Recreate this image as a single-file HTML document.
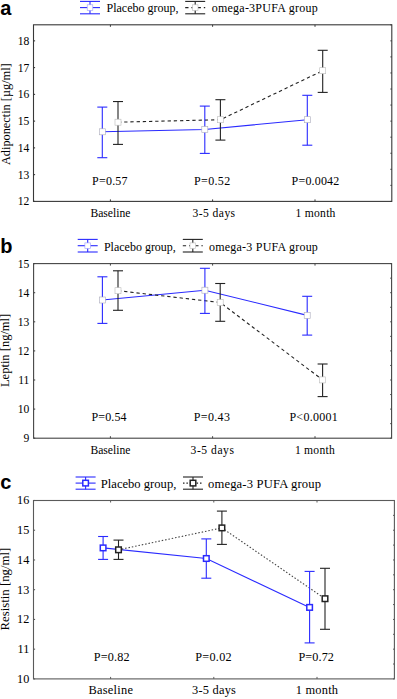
<!DOCTYPE html>
<html><head><meta charset="utf-8"><style>
html,body{margin:0;padding:0;background:#fff;}
body{width:397px;height:699px;overflow:hidden;}
svg{display:block;}
text{font-family:"Liberation Serif", serif;fill:#000;}
</style></head><body>
<svg width="397" height="699" viewBox="0 0 397 699">
<g class="pa">
<rect x="33.5" y="24.8" width="358.3" height="176.6" fill="none" stroke="#383838" stroke-width="1.1"/>
<line x1="33.5" y1="201.4" x2="35.1" y2="201.4" stroke="#383838" stroke-width="1.1"/>
<text x="29.3" y="205.3" text-anchor="end" font-size="11.6">12</text>
<line x1="33.5" y1="174.64" x2="35.1" y2="174.64" stroke="#383838" stroke-width="1.1"/>
<text x="29.3" y="178.54" text-anchor="end" font-size="11.6">13</text>
<line x1="33.5" y1="147.88" x2="35.1" y2="147.88" stroke="#383838" stroke-width="1.1"/>
<text x="29.3" y="151.78" text-anchor="end" font-size="11.6">14</text>
<line x1="33.5" y1="121.13" x2="35.1" y2="121.13" stroke="#383838" stroke-width="1.1"/>
<text x="29.3" y="125.03" text-anchor="end" font-size="11.6">15</text>
<line x1="33.5" y1="94.37" x2="35.1" y2="94.37" stroke="#383838" stroke-width="1.1"/>
<text x="29.3" y="98.27" text-anchor="end" font-size="11.6">16</text>
<line x1="33.5" y1="67.61" x2="35.1" y2="67.61" stroke="#383838" stroke-width="1.1"/>
<text x="29.3" y="71.51" text-anchor="end" font-size="11.6">17</text>
<line x1="33.5" y1="40.85" x2="35.1" y2="40.85" stroke="#383838" stroke-width="1.1"/>
<text x="29.3" y="44.75" text-anchor="end" font-size="11.6">18</text>
<line x1="390.4" y1="201.4" x2="391.8" y2="201.4" stroke="#383838" stroke-width="1"/>
<line x1="390.4" y1="185.35" x2="391.8" y2="185.35" stroke="#383838" stroke-width="1"/>
<line x1="390.4" y1="169.29" x2="391.8" y2="169.29" stroke="#383838" stroke-width="1"/>
<line x1="390.4" y1="153.24" x2="391.8" y2="153.24" stroke="#383838" stroke-width="1"/>
<line x1="390.4" y1="137.18" x2="391.8" y2="137.18" stroke="#383838" stroke-width="1"/>
<line x1="390.4" y1="121.13" x2="391.8" y2="121.13" stroke="#383838" stroke-width="1"/>
<line x1="390.4" y1="105.07" x2="391.8" y2="105.07" stroke="#383838" stroke-width="1"/>
<line x1="390.4" y1="89.02" x2="391.8" y2="89.02" stroke="#383838" stroke-width="1"/>
<line x1="390.4" y1="72.96" x2="391.8" y2="72.96" stroke="#383838" stroke-width="1"/>
<line x1="390.4" y1="56.91" x2="391.8" y2="56.91" stroke="#383838" stroke-width="1"/>
<line x1="390.4" y1="40.85" x2="391.8" y2="40.85" stroke="#383838" stroke-width="1"/>
<line x1="390.4" y1="24.8" x2="391.8" y2="24.8" stroke="#383838" stroke-width="1"/>
<line x1="110.4" y1="24.8" x2="110.4" y2="26.8" stroke="#383838" stroke-width="1"/>
<line x1="110.4" y1="199.4" x2="110.4" y2="201.4" stroke="#383838" stroke-width="1"/>
<line x1="212.6" y1="24.8" x2="212.6" y2="26.8" stroke="#383838" stroke-width="1"/>
<line x1="212.6" y1="199.4" x2="212.6" y2="201.4" stroke="#383838" stroke-width="1"/>
<line x1="315" y1="24.8" x2="315" y2="26.8" stroke="#383838" stroke-width="1"/>
<line x1="315" y1="199.4" x2="315" y2="201.4" stroke="#383838" stroke-width="1"/>
<text x="110.4" y="216.6" text-anchor="middle" font-size="11.6" textLength="40" lengthAdjust="spacing">Baseline</text>
<text x="109.8" y="185.3" text-anchor="middle" font-size="12" textLength="35.6" lengthAdjust="spacing">P=0.57</text>
<text x="213.85" y="216.6" text-anchor="middle" font-size="11.6" textLength="42.5" lengthAdjust="spacing">3-5 days</text>
<text x="212.1" y="185.3" text-anchor="middle" font-size="12" textLength="36.2" lengthAdjust="spacing">P=0.52</text>
<text x="315.5" y="216.6" text-anchor="middle" font-size="11.6" textLength="39.8" lengthAdjust="spacing">1 month</text>
<text x="315.45" y="185.3" text-anchor="middle" font-size="12" textLength="47.7" lengthAdjust="spacing">P=0.0042</text>
<text transform="translate(9.8,114.2) rotate(-90)" text-anchor="middle" font-size="12.3">Adiponectin [µg/ml]</text>
<text x="0.3" y="14.6" style="font-family:&quot;Liberation Sans&quot;,sans-serif;font-weight:bold;font-size:20px;fill:#000">a</text>
<polyline points="102.3,131.8 204.8,129.5 307.3,119.7" fill="none" stroke="#2a2aff" stroke-width="1.1"/>
<polyline points="118,122.2 220.4,119.7 322.7,70.7" fill="none" stroke="#222" stroke-width="1.1" stroke-dasharray="3.3,2.9"/>
<line x1="102.3" y1="107.1" x2="102.3" y2="157.7" stroke="#2a2aff" stroke-width="1.1"/>
<line x1="97.3" y1="107.1" x2="107.3" y2="107.1" stroke="#2a2aff" stroke-width="1.1"/>
<line x1="97.3" y1="157.7" x2="107.3" y2="157.7" stroke="#2a2aff" stroke-width="1.1"/>
<rect x="99.3" y="128.8" width="6" height="6" fill="#fff" stroke="#aab" stroke-width="0.6"/>
<line x1="204.8" y1="106.1" x2="204.8" y2="153.4" stroke="#2a2aff" stroke-width="1.1"/>
<line x1="199.8" y1="106.1" x2="209.8" y2="106.1" stroke="#2a2aff" stroke-width="1.1"/>
<line x1="199.8" y1="153.4" x2="209.8" y2="153.4" stroke="#2a2aff" stroke-width="1.1"/>
<rect x="201.8" y="126.5" width="6" height="6" fill="#fff" stroke="#aab" stroke-width="0.6"/>
<line x1="307.3" y1="95.3" x2="307.3" y2="145.2" stroke="#2a2aff" stroke-width="1.1"/>
<line x1="302.3" y1="95.3" x2="312.3" y2="95.3" stroke="#2a2aff" stroke-width="1.1"/>
<line x1="302.3" y1="145.2" x2="312.3" y2="145.2" stroke="#2a2aff" stroke-width="1.1"/>
<rect x="304.3" y="116.7" width="6" height="6" fill="#fff" stroke="#aab" stroke-width="0.6"/>
<line x1="118" y1="101.55" x2="118" y2="144.4" stroke="#222" stroke-width="1.1"/>
<line x1="113" y1="101.55" x2="123" y2="101.55" stroke="#222" stroke-width="1.1"/>
<line x1="113" y1="144.4" x2="123" y2="144.4" stroke="#222" stroke-width="1.1"/>
<rect x="115" y="119.2" width="6" height="6" fill="#fff" stroke="#bbb" stroke-width="0.6"/>
<line x1="220.4" y1="99.7" x2="220.4" y2="140.1" stroke="#222" stroke-width="1.1"/>
<line x1="215.4" y1="99.7" x2="225.4" y2="99.7" stroke="#222" stroke-width="1.1"/>
<line x1="215.4" y1="140.1" x2="225.4" y2="140.1" stroke="#222" stroke-width="1.1"/>
<rect x="217.4" y="116.7" width="6" height="6" fill="#fff" stroke="#bbb" stroke-width="0.6"/>
<line x1="322.7" y1="50.3" x2="322.7" y2="92.4" stroke="#222" stroke-width="1.1"/>
<line x1="317.7" y1="50.3" x2="327.7" y2="50.3" stroke="#222" stroke-width="1.1"/>
<line x1="317.7" y1="92.4" x2="327.7" y2="92.4" stroke="#222" stroke-width="1.1"/>
<rect x="319.7" y="67.7" width="6" height="6" fill="#fff" stroke="#bbb" stroke-width="0.6"/>
<line x1="80" y1="1.4" x2="100" y2="1.4" stroke="#2a2aff" stroke-width="1.1"/>
<line x1="80" y1="13.8" x2="100" y2="13.8" stroke="#2a2aff" stroke-width="1.1"/>
<line x1="90" y1="1.4" x2="90" y2="13.8" stroke="#2a2aff" stroke-width="1.1"/>
<line x1="80" y1="7.6" x2="100" y2="7.6" stroke="#2a2aff" stroke-width="1.1"/>
<rect x="87.2" y="4.8" width="5.6" height="5.6" fill="#fff" stroke="#99f" stroke-width="0.6"/>
<line x1="185.2" y1="1.4" x2="205.2" y2="1.4" stroke="#222" stroke-width="1.1"/>
<line x1="185.2" y1="13.8" x2="205.2" y2="13.8" stroke="#222" stroke-width="1.1"/>
<line x1="195.2" y1="1.4" x2="195.2" y2="13.8" stroke="#222" stroke-width="1.1"/>
<line x1="185.2" y1="7.6" x2="205.2" y2="7.6" stroke="#222" stroke-width="1.1" stroke-dasharray="3.3,2.9"/>
<rect x="192.4" y="4.8" width="5.6" height="5.6" fill="#fff" stroke="#bbb" stroke-width="0.6"/>
<text x="106.5" y="11.6" font-size="12">Placebo group,</text>
<text x="211.65" y="11.6" font-size="12" letter-spacing="0.25">omega-3PUFA group</text>
</g>
<g class="pb">
<rect x="33.6" y="263.6" width="358" height="174.6" fill="none" stroke="#444" stroke-width="1.1"/>
<line x1="33.6" y1="438.2" x2="35.2" y2="438.2" stroke="#444" stroke-width="1.1"/>
<text x="29.4" y="442.1" text-anchor="end" font-size="11.6">9</text>
<line x1="33.6" y1="409.1" x2="35.2" y2="409.1" stroke="#444" stroke-width="1.1"/>
<text x="29.4" y="413" text-anchor="end" font-size="11.6">10</text>
<line x1="33.6" y1="380" x2="35.2" y2="380" stroke="#444" stroke-width="1.1"/>
<text x="29.4" y="383.9" text-anchor="end" font-size="11.6">11</text>
<line x1="33.6" y1="350.9" x2="35.2" y2="350.9" stroke="#444" stroke-width="1.1"/>
<text x="29.4" y="354.8" text-anchor="end" font-size="11.6">12</text>
<line x1="33.6" y1="321.8" x2="35.2" y2="321.8" stroke="#444" stroke-width="1.1"/>
<text x="29.4" y="325.7" text-anchor="end" font-size="11.6">13</text>
<line x1="33.6" y1="292.7" x2="35.2" y2="292.7" stroke="#444" stroke-width="1.1"/>
<text x="29.4" y="296.6" text-anchor="end" font-size="11.6">14</text>
<line x1="33.6" y1="263.6" x2="35.2" y2="263.6" stroke="#444" stroke-width="1.1"/>
<text x="29.4" y="267.5" text-anchor="end" font-size="11.6">15</text>
<line x1="390.2" y1="438.2" x2="391.6" y2="438.2" stroke="#444" stroke-width="1"/>
<line x1="390.2" y1="423.65" x2="391.6" y2="423.65" stroke="#444" stroke-width="1"/>
<line x1="390.2" y1="409.1" x2="391.6" y2="409.1" stroke="#444" stroke-width="1"/>
<line x1="390.2" y1="394.55" x2="391.6" y2="394.55" stroke="#444" stroke-width="1"/>
<line x1="390.2" y1="380" x2="391.6" y2="380" stroke="#444" stroke-width="1"/>
<line x1="390.2" y1="365.45" x2="391.6" y2="365.45" stroke="#444" stroke-width="1"/>
<line x1="390.2" y1="350.9" x2="391.6" y2="350.9" stroke="#444" stroke-width="1"/>
<line x1="390.2" y1="336.35" x2="391.6" y2="336.35" stroke="#444" stroke-width="1"/>
<line x1="390.2" y1="321.8" x2="391.6" y2="321.8" stroke="#444" stroke-width="1"/>
<line x1="390.2" y1="307.25" x2="391.6" y2="307.25" stroke="#444" stroke-width="1"/>
<line x1="390.2" y1="292.7" x2="391.6" y2="292.7" stroke="#444" stroke-width="1"/>
<line x1="390.2" y1="278.15" x2="391.6" y2="278.15" stroke="#444" stroke-width="1"/>
<line x1="390.2" y1="263.6" x2="391.6" y2="263.6" stroke="#444" stroke-width="1"/>
<line x1="110.4" y1="263.6" x2="110.4" y2="265.6" stroke="#444" stroke-width="1"/>
<line x1="110.4" y1="436.2" x2="110.4" y2="438.2" stroke="#444" stroke-width="1"/>
<line x1="212.6" y1="263.6" x2="212.6" y2="265.6" stroke="#444" stroke-width="1"/>
<line x1="212.6" y1="436.2" x2="212.6" y2="438.2" stroke="#444" stroke-width="1"/>
<line x1="315" y1="263.6" x2="315" y2="265.6" stroke="#444" stroke-width="1"/>
<line x1="315" y1="436.2" x2="315" y2="438.2" stroke="#444" stroke-width="1"/>
<text x="110.4" y="453.5" text-anchor="middle" font-size="11.6" textLength="40" lengthAdjust="spacing">Baseline</text>
<text x="109" y="421.4" text-anchor="middle" font-size="12" textLength="35.2" lengthAdjust="spacing">P=0.54</text>
<text x="212.25" y="453.5" text-anchor="middle" font-size="11.6" textLength="43.3" lengthAdjust="spacing">3-5 days</text>
<text x="211.85" y="421.4" text-anchor="middle" font-size="12" textLength="36.1" lengthAdjust="spacing">P=0.43</text>
<text x="314.8" y="453.5" text-anchor="middle" font-size="11.6" textLength="39.8" lengthAdjust="spacing">1 month</text>
<text x="313.55" y="421.4" text-anchor="middle" font-size="12" textLength="48.3" lengthAdjust="spacing">P&lt;0.0001</text>
<text transform="translate(9.3,350.4) rotate(-90)" text-anchor="middle" font-size="12.5">Leptin [ng/ml]</text>
<text x="0.3" y="252.8" style="font-family:&quot;Liberation Sans&quot;,sans-serif;font-weight:bold;font-size:20px;fill:#000">b</text>
<polyline points="102.4,300 204.9,290.2 307.2,315.4" fill="none" stroke="#2a2aff" stroke-width="1.1"/>
<polyline points="118,290.7 220.2,302.5 322.6,379.9" fill="none" stroke="#222" stroke-width="1.1" stroke-dasharray="3.3,2.9"/>
<line x1="102.4" y1="276.8" x2="102.4" y2="323.4" stroke="#2a2aff" stroke-width="1.1"/>
<line x1="97.4" y1="276.8" x2="107.4" y2="276.8" stroke="#2a2aff" stroke-width="1.1"/>
<line x1="97.4" y1="323.4" x2="107.4" y2="323.4" stroke="#2a2aff" stroke-width="1.1"/>
<rect x="99.4" y="297" width="6" height="6" fill="#fff" stroke="#aab" stroke-width="0.6"/>
<line x1="204.9" y1="268.3" x2="204.9" y2="313.4" stroke="#2a2aff" stroke-width="1.1"/>
<line x1="199.9" y1="268.3" x2="209.9" y2="268.3" stroke="#2a2aff" stroke-width="1.1"/>
<line x1="199.9" y1="313.4" x2="209.9" y2="313.4" stroke="#2a2aff" stroke-width="1.1"/>
<rect x="201.9" y="287.2" width="6" height="6" fill="#fff" stroke="#aab" stroke-width="0.6"/>
<line x1="307.2" y1="296.3" x2="307.2" y2="335.1" stroke="#2a2aff" stroke-width="1.1"/>
<line x1="302.2" y1="296.3" x2="312.2" y2="296.3" stroke="#2a2aff" stroke-width="1.1"/>
<line x1="302.2" y1="335.1" x2="312.2" y2="335.1" stroke="#2a2aff" stroke-width="1.1"/>
<rect x="304.2" y="312.4" width="6" height="6" fill="#fff" stroke="#aab" stroke-width="0.6"/>
<line x1="118" y1="270.8" x2="118" y2="310.3" stroke="#222" stroke-width="1.1"/>
<line x1="113" y1="270.8" x2="123" y2="270.8" stroke="#222" stroke-width="1.1"/>
<line x1="113" y1="310.3" x2="123" y2="310.3" stroke="#222" stroke-width="1.1"/>
<rect x="115" y="287.7" width="6" height="6" fill="#fff" stroke="#bbb" stroke-width="0.6"/>
<line x1="220.2" y1="283.5" x2="220.2" y2="321.3" stroke="#222" stroke-width="1.1"/>
<line x1="215.2" y1="283.5" x2="225.2" y2="283.5" stroke="#222" stroke-width="1.1"/>
<line x1="215.2" y1="321.3" x2="225.2" y2="321.3" stroke="#222" stroke-width="1.1"/>
<rect x="217.2" y="299.5" width="6" height="6" fill="#fff" stroke="#bbb" stroke-width="0.6"/>
<line x1="322.6" y1="364" x2="322.6" y2="396.6" stroke="#222" stroke-width="1.1"/>
<line x1="317.6" y1="364" x2="327.6" y2="364" stroke="#222" stroke-width="1.1"/>
<line x1="317.6" y1="396.6" x2="327.6" y2="396.6" stroke="#222" stroke-width="1.1"/>
<rect x="319.6" y="376.9" width="6" height="6" fill="#fff" stroke="#bbb" stroke-width="0.6"/>
<line x1="77.7" y1="239.4" x2="97.7" y2="239.4" stroke="#2a2aff" stroke-width="1.1"/>
<line x1="77.7" y1="252" x2="97.7" y2="252" stroke="#2a2aff" stroke-width="1.1"/>
<line x1="87.7" y1="239.4" x2="87.7" y2="252" stroke="#2a2aff" stroke-width="1.1"/>
<line x1="77.7" y1="245.7" x2="97.7" y2="245.7" stroke="#2a2aff" stroke-width="1.1"/>
<rect x="84.9" y="242.9" width="5.6" height="5.6" fill="#fff" stroke="#99f" stroke-width="0.6"/>
<line x1="182.8" y1="239.4" x2="202.8" y2="239.4" stroke="#222" stroke-width="1.1"/>
<line x1="182.8" y1="252" x2="202.8" y2="252" stroke="#222" stroke-width="1.1"/>
<line x1="192.8" y1="239.4" x2="192.8" y2="252" stroke="#222" stroke-width="1.1"/>
<line x1="182.8" y1="245.7" x2="202.8" y2="245.7" stroke="#222" stroke-width="1.1" stroke-dasharray="3.3,2.9"/>
<rect x="190" y="242.9" width="5.6" height="5.6" fill="#fff" stroke="#bbb" stroke-width="0.6"/>
<text x="103.9" y="251.1" font-size="12">Placebo group,</text>
<text x="209" y="251.1" font-size="12" letter-spacing="0.22">omega-3 PUFA group</text>
</g>
<g class="pc">
<rect x="33.5" y="500.5" width="360.9" height="178.4" fill="none" stroke="#5a5a5a" stroke-width="1.1"/>
<line x1="33.5" y1="678.9" x2="35.1" y2="678.9" stroke="#5a5a5a" stroke-width="1.1"/>
<text x="29.3" y="682.8" text-anchor="end" font-size="12.2">10</text>
<line x1="33.5" y1="649.17" x2="35.1" y2="649.17" stroke="#5a5a5a" stroke-width="1.1"/>
<text x="29.3" y="653.07" text-anchor="end" font-size="12.2">11</text>
<line x1="33.5" y1="619.43" x2="35.1" y2="619.43" stroke="#5a5a5a" stroke-width="1.1"/>
<text x="29.3" y="623.33" text-anchor="end" font-size="12.2">12</text>
<line x1="33.5" y1="589.7" x2="35.1" y2="589.7" stroke="#5a5a5a" stroke-width="1.1"/>
<text x="29.3" y="593.6" text-anchor="end" font-size="12.2">13</text>
<line x1="33.5" y1="559.97" x2="35.1" y2="559.97" stroke="#5a5a5a" stroke-width="1.1"/>
<text x="29.3" y="563.87" text-anchor="end" font-size="12.2">14</text>
<line x1="33.5" y1="530.23" x2="35.1" y2="530.23" stroke="#5a5a5a" stroke-width="1.1"/>
<text x="29.3" y="534.13" text-anchor="end" font-size="12.2">15</text>
<line x1="33.5" y1="500.5" x2="35.1" y2="500.5" stroke="#5a5a5a" stroke-width="1.1"/>
<text x="29.3" y="504.4" text-anchor="end" font-size="12.2">16</text>
<line x1="393" y1="678.9" x2="394.4" y2="678.9" stroke="#5a5a5a" stroke-width="1"/>
<line x1="393" y1="664.03" x2="394.4" y2="664.03" stroke="#5a5a5a" stroke-width="1"/>
<line x1="393" y1="649.17" x2="394.4" y2="649.17" stroke="#5a5a5a" stroke-width="1"/>
<line x1="393" y1="634.3" x2="394.4" y2="634.3" stroke="#5a5a5a" stroke-width="1"/>
<line x1="393" y1="619.43" x2="394.4" y2="619.43" stroke="#5a5a5a" stroke-width="1"/>
<line x1="393" y1="604.57" x2="394.4" y2="604.57" stroke="#5a5a5a" stroke-width="1"/>
<line x1="393" y1="589.7" x2="394.4" y2="589.7" stroke="#5a5a5a" stroke-width="1"/>
<line x1="393" y1="574.83" x2="394.4" y2="574.83" stroke="#5a5a5a" stroke-width="1"/>
<line x1="393" y1="559.97" x2="394.4" y2="559.97" stroke="#5a5a5a" stroke-width="1"/>
<line x1="393" y1="545.1" x2="394.4" y2="545.1" stroke="#5a5a5a" stroke-width="1"/>
<line x1="393" y1="530.23" x2="394.4" y2="530.23" stroke="#5a5a5a" stroke-width="1"/>
<line x1="393" y1="515.37" x2="394.4" y2="515.37" stroke="#5a5a5a" stroke-width="1"/>
<line x1="393" y1="500.5" x2="394.4" y2="500.5" stroke="#5a5a5a" stroke-width="1"/>
<line x1="110.6" y1="500.5" x2="110.6" y2="502.5" stroke="#5a5a5a" stroke-width="1"/>
<line x1="110.6" y1="676.9" x2="110.6" y2="678.9" stroke="#5a5a5a" stroke-width="1"/>
<line x1="213.8" y1="500.5" x2="213.8" y2="502.5" stroke="#5a5a5a" stroke-width="1"/>
<line x1="213.8" y1="676.9" x2="213.8" y2="678.9" stroke="#5a5a5a" stroke-width="1"/>
<line x1="317" y1="500.5" x2="317" y2="502.5" stroke="#5a5a5a" stroke-width="1"/>
<line x1="317" y1="676.9" x2="317" y2="678.9" stroke="#5a5a5a" stroke-width="1"/>
<text x="110.7" y="694.4" text-anchor="middle" font-size="12.4" textLength="44.4" lengthAdjust="spacing">Baseline</text>
<text x="111.6" y="660.5" text-anchor="middle" font-size="12.2" textLength="35.8" lengthAdjust="spacing">P=0.82</text>
<text x="213.95" y="694.4" text-anchor="middle" font-size="12.4" textLength="43.9" lengthAdjust="spacing">3-5 days</text>
<text x="213.4" y="660.5" text-anchor="middle" font-size="12.2" textLength="36.4" lengthAdjust="spacing">P=0.02</text>
<text x="316.9" y="694.4" text-anchor="middle" font-size="12.4" textLength="42.2" lengthAdjust="spacing">1 month</text>
<text x="316.2" y="660.5" text-anchor="middle" font-size="12.2" textLength="35.4" lengthAdjust="spacing">P=0.72</text>
<text transform="translate(9.4,589.1) rotate(-90)" text-anchor="middle" font-size="12.8">Resistin [ng/ml]</text>
<text x="0.3" y="489.4" style="font-family:&quot;Liberation Sans&quot;,sans-serif;font-weight:bold;font-size:20px;fill:#000">c</text>
<polyline points="103.1,547.9 206.3,558.5 309.6,607.4" fill="none" stroke="#2a2aff" stroke-width="1.1"/>
<polyline points="118.5,549.8 221.9,527.9 325,598.7" fill="none" stroke="#444" stroke-width="1.1" stroke-dasharray="1.5,1.9"/>
<line x1="103.1" y1="536.5" x2="103.1" y2="559.4" stroke="#2a2aff" stroke-width="1.1"/>
<line x1="98.1" y1="536.5" x2="108.1" y2="536.5" stroke="#2a2aff" stroke-width="1.1"/>
<line x1="98.1" y1="559.4" x2="108.1" y2="559.4" stroke="#2a2aff" stroke-width="1.1"/>
<rect x="100.3" y="545.1" width="5.6" height="5.6" fill="#fff" stroke="#2a2aff" stroke-width="1.5"/>
<line x1="206.3" y1="538.9" x2="206.3" y2="578.2" stroke="#2a2aff" stroke-width="1.1"/>
<line x1="201.3" y1="538.9" x2="211.3" y2="538.9" stroke="#2a2aff" stroke-width="1.1"/>
<line x1="201.3" y1="578.2" x2="211.3" y2="578.2" stroke="#2a2aff" stroke-width="1.1"/>
<rect x="203.5" y="555.7" width="5.6" height="5.6" fill="#fff" stroke="#2a2aff" stroke-width="1.5"/>
<line x1="309.6" y1="571.4" x2="309.6" y2="642.9" stroke="#2a2aff" stroke-width="1.1"/>
<line x1="304.6" y1="571.4" x2="314.6" y2="571.4" stroke="#2a2aff" stroke-width="1.1"/>
<line x1="304.6" y1="642.9" x2="314.6" y2="642.9" stroke="#2a2aff" stroke-width="1.1"/>
<rect x="306.8" y="604.6" width="5.6" height="5.6" fill="#fff" stroke="#2a2aff" stroke-width="1.5"/>
<line x1="118.5" y1="540.1" x2="118.5" y2="559.4" stroke="#222" stroke-width="1.1"/>
<line x1="113.5" y1="540.1" x2="123.5" y2="540.1" stroke="#222" stroke-width="1.1"/>
<line x1="113.5" y1="559.4" x2="123.5" y2="559.4" stroke="#222" stroke-width="1.1"/>
<rect x="115.7" y="547" width="5.6" height="5.6" fill="#fff" stroke="#222" stroke-width="1.5"/>
<line x1="221.9" y1="511.1" x2="221.9" y2="544.4" stroke="#222" stroke-width="1.1"/>
<line x1="216.9" y1="511.1" x2="226.9" y2="511.1" stroke="#222" stroke-width="1.1"/>
<line x1="216.9" y1="544.4" x2="226.9" y2="544.4" stroke="#222" stroke-width="1.1"/>
<rect x="219.1" y="525.1" width="5.6" height="5.6" fill="#fff" stroke="#222" stroke-width="1.5"/>
<line x1="325" y1="568.3" x2="325" y2="629.3" stroke="#222" stroke-width="1.1"/>
<line x1="320" y1="568.3" x2="330" y2="568.3" stroke="#222" stroke-width="1.1"/>
<line x1="320" y1="629.3" x2="330" y2="629.3" stroke="#222" stroke-width="1.1"/>
<rect x="322.2" y="595.9" width="5.6" height="5.6" fill="#fff" stroke="#222" stroke-width="1.5"/>
<line x1="75.6" y1="477" x2="95.6" y2="477" stroke="#2a2aff" stroke-width="1.1"/>
<line x1="75.6" y1="489.2" x2="95.6" y2="489.2" stroke="#2a2aff" stroke-width="1.1"/>
<line x1="85.6" y1="477" x2="85.6" y2="489.2" stroke="#2a2aff" stroke-width="1.1"/>
<line x1="75.6" y1="483.1" x2="95.6" y2="483.1" stroke="#2a2aff" stroke-width="1.1"/>
<rect x="82.8" y="480.3" width="5.6" height="5.6" fill="#fff" stroke="#2a2aff" stroke-width="1.5"/>
<line x1="183" y1="477" x2="203" y2="477" stroke="#222" stroke-width="1.1"/>
<line x1="183" y1="489.2" x2="203" y2="489.2" stroke="#222" stroke-width="1.1"/>
<line x1="193" y1="477" x2="193" y2="489.2" stroke="#222" stroke-width="1.1"/>
<line x1="183" y1="483.1" x2="203" y2="483.1" stroke="#222" stroke-width="1.1" stroke-dasharray="1.5,1.9"/>
<rect x="190.2" y="480.3" width="5.6" height="5.6" fill="#fff" stroke="#222" stroke-width="1.5"/>
<text x="100.8" y="488.1" font-size="12.6">Placebo group,</text>
<text x="208" y="488.1" font-size="12.6" letter-spacing="0.16">omega-3 PUFA group</text>
</g>
</svg>
</body></html>
